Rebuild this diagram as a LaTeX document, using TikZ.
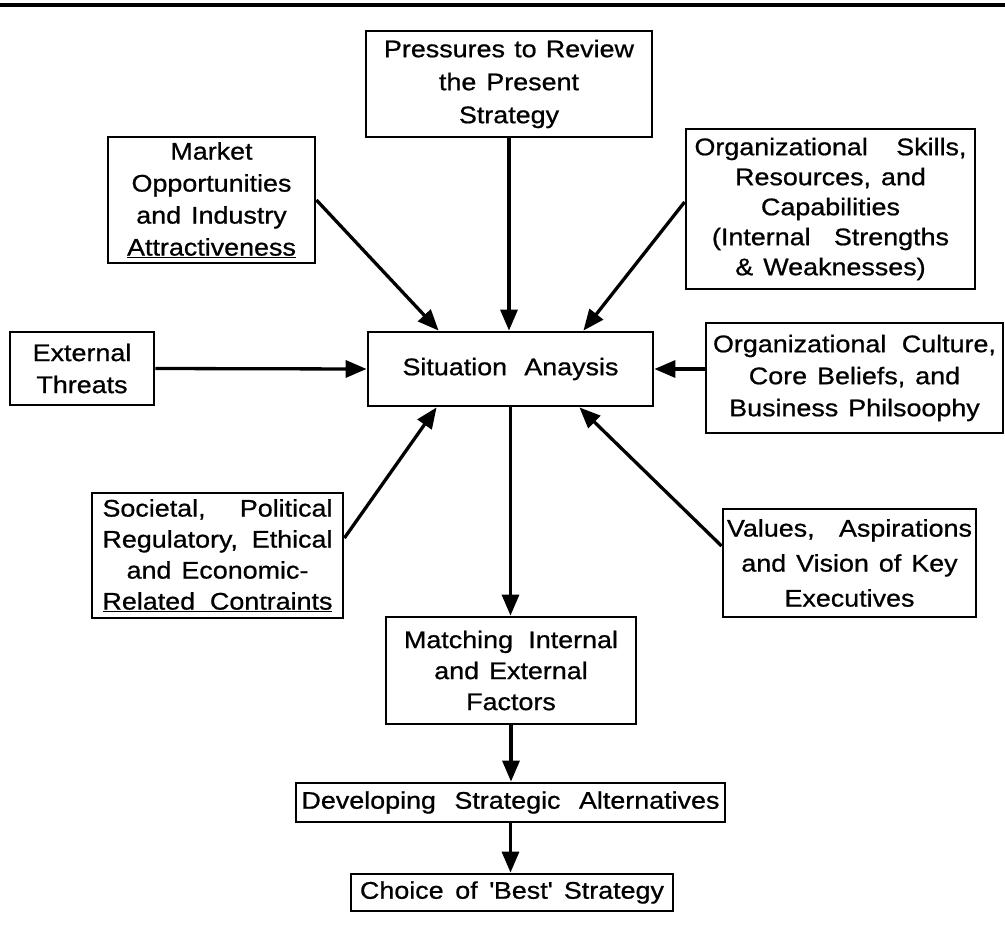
\documentclass[tikz,border=0pt]{standalone}
\usepackage{fontspec}
\setmainfont{Liberation Sans}[FakeStretch=1.12,FakeBold=0.8]
\usetikzlibrary{arrows.meta,calc}

% a line spread out to a given width
\newcommand\spr[2]{\makebox[#1][s]{#2}}

\begin{document}
\begin{tikzpicture}[x=1pt,y=-1pt,
  box/.style={draw, line width=2.8pt, inner sep=0pt,
    font=\fontsize{24}{32}\selectfont,
    execute at begin node={\centering\spaceskip=10pt plus 14pt minus 3pt\relax\xspaceskip=\spaceskip}},
  flow/.style={line width=3.3pt, -{Triangle[length=21pt,width=17pt]}}]

\useasboundingbox (0,0) rectangle (1005,930);

% rule across the top of the page
\draw[line width=4pt] (0,5) -- (1005,5);

% boxes
\node[box, font=\fontsize{24}{33}\selectfont, minimum width=286, minimum height=106, text width=280pt] (press) at (509,84)
  {\spr{250pt}{Pressures to Review}\\the Present\\Strategy};
\node[box, minimum width=207, minimum height=126, text width=201pt] (market) at (211.5,200)
  {Market\\Opportunities\\and Industry\\\underline{Attractiveness}};
\node[box, font=\fontsize{24}{30}\selectfont, minimum width=289, minimum height=160, text width=283pt] (skills) at (830.5,209)
  {\spr{272pt}{Organizational Skills,}\\Resources, and\\Capabilities\\\spr{237pt}{(Internal Strengths}\\\& Weaknesses)};
\node[box, minimum width=144, minimum height=73, text width=138pt] (threats) at (82,368.5)
  {External\\Threats};
\node[box, minimum width=285, minimum height=74, text width=279pt] (sit) at (510.5,369)
  {\spr{216pt}{Situation Anaysis}};
\node[box, minimum width=297, minimum height=110, text width=291pt] (culture) at (854.5,378)
  {\spr{283pt}{Organizational Culture,}\\Core Beliefs, and\\Business Philsoophy};
\node[box, font=\fontsize{24}{31}\selectfont, minimum width=251, minimum height=125, text width=245pt] (soc) at (217.5,555.5)
  {\spr{230pt}{Societal, Political}\\\spr{230pt}{Regulatory, Ethical}\\and Economic-\\\underline{\spr{230pt}{Related Contraints}}};
\node[box, font=\fontsize{24}{35}\selectfont, minimum width=253, minimum height=108, text width=249pt] (values) at (849.5,563)
  {\spr{245pt}{Values, Aspirations}\\and Vision of Key\\Executives};
\node[box, font=\fontsize{24}{31}\selectfont, minimum width=250, minimum height=107, text width=244pt] (match) at (511,670.5)
  {\spr{214pt}{Matching Internal}\\and External\\Factors};
\node[box, minimum width=429, minimum height=39, text width=423pt] (dev) at (510.5,802.5)
  {\spr{418pt}{Developing Strategic Alternatives}};
\node[box, minimum width=322, minimum height=37, text width=316pt] (choice) at (512,892.5)
  {\spr{304pt}{Choice of \textquotesingle Best\textquotesingle{} Strategy}};

% influences feeding the situation analysis
\draw[flow] (press.south) -- (press.south |- sit.north);
\draw[flow] (market.east) -- ($(sit.north west)+(72,0)$);
\draw[flow] ($(skills.west)+(0,-7)$) -- ($(sit.north east)+(-71,0)$);
\draw[flow] (threats.east) -- (sit.west);
\draw[flow] (culture.west |- sit.east) -- (sit.east);
\draw[flow] ($(soc.east)+(0,-17.5)$) -- ($(sit.south west)+(70,0)$);
\draw[flow] ($(values.west)+(0,-17)$) -- ($(sit.south east)+(-75,0)$);

% main sequence
\draw[flow] (sit.south) -- (sit.south |- match.north);
\draw[flow] (match.south) -- (match.south |- dev.north);
\draw[flow] (dev.south) -- (dev.south |- choice.north);
\end{tikzpicture}
\end{document}
